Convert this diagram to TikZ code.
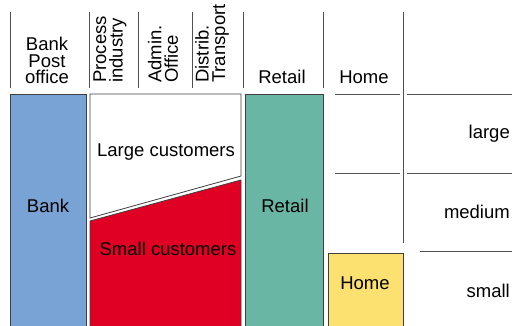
\documentclass[tikz,border=0pt]{standalone}
\usepackage{fontspec}
\setmainfont{Liberation Sans}
\definecolor{bankblue}{HTML}{79A3D4}
\definecolor{smallred}{HTML}{E00024}
\definecolor{retailgreen}{HTML}{6AB6A4}
\definecolor{homeyellow}{HTML}{FCE070}
\definecolor{rulegray}{HTML}{505050}
\tikzset{
  lbl/.style={font=\fontsize{18.5}{16.5}\selectfont, inner sep=0pt},
  head/.style={lbl, anchor=south, align=center},
  vhead/.style={lbl, rotate=90, anchor=west, align=left},
  seg/.style={draw=black!75, line width=0.8pt},
  rule/.style={draw=rulegray, line width=1pt},
}
\begin{document}
\begin{tikzpicture}[x=1pt,y=-1pt]
    \useasboundingbox (0,0) rectangle (514,326);
    % header rules
    \foreach \x in {10,89,138,192,243,323}
        \draw[rule] (\x,12) -- (\x,88);
    \draw[rule] (403,12) -- (403,243);
    \draw[rule] (335,95) -- (400,95);
    \draw[rule] (407,95) -- (512,95);
    \draw[rule] (335,173) -- (400,173);
    \draw[rule] (407,173) -- (512,173);
    \draw[rule] (420,251) -- (512,251);
    % headers
    \node[head] (hbank) at (47,84) {Bank\\Post\\office};
    \node[vhead] (hproc) at (110,83) {Process\\industry};
    \node[vhead] (hadmin) at (163,83) {Admin.\\Office};
    \node[vhead] (hdist) at (212,83) {Distrib.\\Transport};
    \node[head] (hretail) at (282,84) {Retail};
    \node[head] (hhome) at (364,84) {Home};
    % segments
    \draw[seg, fill=bankblue] (10,94) rectangle (86,330);
    \draw[seg, fill=white] (90,94) -- (241,94) -- (241,176) -- (90,218) -- cycle;
    \draw[seg, fill=smallred] (90,221) -- (241,180) -- (241,330) -- (90,330) -- cycle;
    \draw[seg, fill=retailgreen] (245,94) rectangle (323,330);
    \draw[seg, fill=homeyellow] (328,253) rectangle (403,330);
    \node[lbl, anchor=base] (bank) at (48,212) {Bank};
    \node[lbl, anchor=base] (large) at (166,157) {Large customers};
    \node[lbl, anchor=base] (small) at (168,255) {Small customers};
    \node[lbl, anchor=base] (retail) at (285,212) {Retail};
    \node[lbl, anchor=base] (home) at (365,289) {Home};
    % size classes
    \node[lbl, anchor=base east] (slarge) at (510,139) {large};
    \node[lbl, anchor=base east] (smedium) at (510,218) {medium};
    \node[lbl, anchor=base east] (ssmall) at (510,297) {small};
\end{tikzpicture}
\end{document}
